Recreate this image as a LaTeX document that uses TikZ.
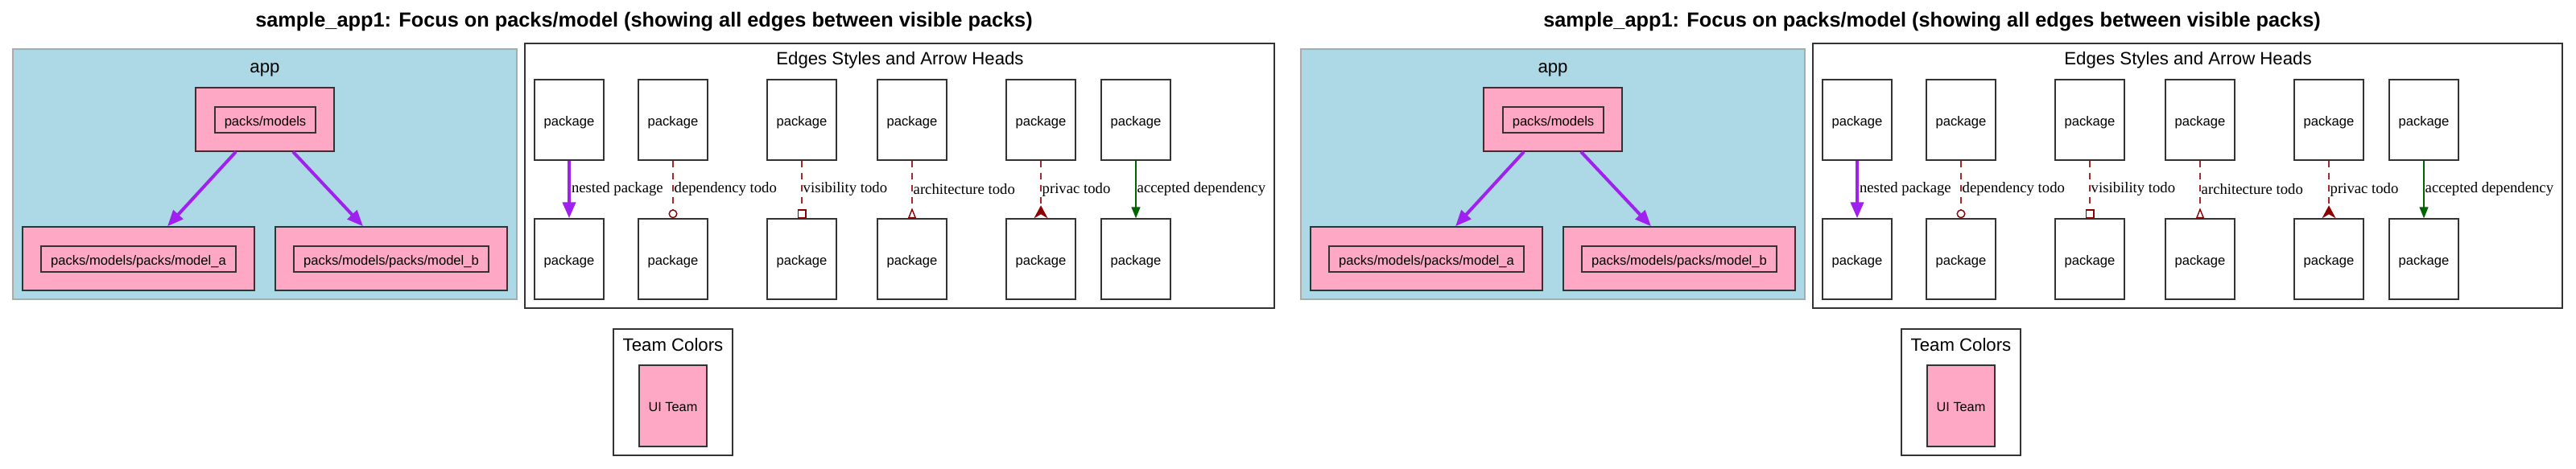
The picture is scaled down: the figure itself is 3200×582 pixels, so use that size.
\documentclass[tikz,border=0pt]{standalone}
\usepackage{fontspec}
\setmainfont{Liberation Sans}
\newfontfamily\edgefont{Liberation Serif}
\usetikzlibrary{arrows.meta}
\definecolor{gvpink}{RGB}{255,168,197}
\definecolor{gvblue}{RGB}{173,216,230}
\definecolor{gvpurple}{RGB}{160,32,240}
\definecolor{gvdarkred}{RGB}{139,0,0}
\definecolor{gvline}{RGB}{165,42,42}
\definecolor{gvgreen}{RGB}{0,100,0}
\definecolor{gvborder}{RGB}{51,51,51}
\definecolor{gvgray}{RGB}{170,170,170}
\tikzset{
  gvtext/.style={font=\fontsize{16.6}{20}\selectfont, text height=15pt, text depth=1pt},
  pkgbox/.style={draw=gvborder, line width=1.4pt, fill=white, minimum width=86pt, minimum height=100pt, inner sep=0pt, gvtext},
  pinkbox/.style={draw=gvborder, line width=1.4pt, fill=gvpink, minimum height=79pt, inner sep=0pt},
  labelbox/.style={draw=gvborder, line width=1.2pt, fill=gvpink, minimum height=32pt, inner sep=0pt, gvtext},
  clusterlabel/.style={font=\fontsize{22.2}{26}\selectfont, anchor=base, inner sep=0pt},
  titlelabel/.style={font=\bfseries\fontsize{25.3}{30}\selectfont, anchor=base, inner sep=0pt},
  elabel/.style={font=\edgefont\fontsize{18.7}{22}\selectfont, anchor=west, inner sep=0pt, xshift=1pt},
  nestedge/.style={draw=gvpurple, line width=4pt, -{Triangle[length=20pt,width=16pt]}},
  todoedge/.style={draw=gvline, line width=1.4pt, dash pattern=on 8pt off 7pt},
  acceptedge/.style={draw=gvgreen, line width=1.4pt, -{Triangle[length=14pt,width=11pt]}},
}
\newcommand\drawcopy{%
  % title
  \node[titlelabel] (title) at (800,33.5) {sample\_app1: Focus on packs/model (showing all edges between visible packs)};
  % app cluster
  \node[draw=gvgray, line width=1.4pt, fill=gvblue, minimum width=626pt, minimum height=311pt, inner sep=0pt] (app) at (329,216.5) {};
  \node[clusterlabel] (applabel) at (329,90.5) {app};
  \node[pinkbox, minimum width=172pt] (pm) at (329,148.5) {};
  \node[labelbox, minimum width=125pt] (pmtext) at (329.5,149) {packs/models};
  \node[pinkbox, minimum width=288pt] (ma) at (172,321.5) {};
  \node[labelbox, minimum width=242pt] (matext) at (172,322) {packs/models/packs/model\_a};
  \node[pinkbox, minimum width=288pt] (mb) at (486,321.5) {};
  \node[labelbox, minimum width=242pt] (mbtext) at (486,322) {packs/models/packs/model\_b};
  \draw[nestedge] ([xshift=-36pt]pm.south) -- ([xshift=36pt]ma.north);
  \draw[nestedge] ([xshift=35pt]pm.south) -- ([xshift=-35pt]mb.north);
  % edges legend cluster
  \node[draw=gvborder, line width=1.4pt, fill=white, minimum width=931pt, minimum height=329pt, inner sep=0pt] (legend) at (1117.5,218.5) {};
  \node[clusterlabel] (legendlabel) at (1118,80) {Edges Styles and Arrow Heads};
  \foreach \i/\x in {1/707,2/836,3/996,4/1133,5/1293,6/1411}{%
    \node[pkgbox] (t\i) at (\x,149) {package};
    \node[pkgbox] (b\i) at (\x,322) {package};
  }
  \draw[nestedge] (t1) -- node[elabel, pos=0.5] {nested package} (b1);
  \draw[todoedge, -{Circle[open, length=11pt, width=11pt, line width=1.4pt, color=gvdarkred]}] (t2) -- node[elabel, pos=0.5] {dependency todo} (b2);
  \draw[todoedge, -{Square[open, length=11pt, width=11pt, line width=1.4pt, color=gvdarkred]}] (t3) -- node[elabel, pos=0.5] {visibility todo} (b3);
  \draw[todoedge, -{Triangle[open, reversed, length=13pt, width=10pt, line width=1.4pt, color=gvdarkred]}] (t4) -- node[elabel, pos=0.5] {architecture todo} (b4);
  \draw[todoedge, -{Stealth[reversed, length=16pt, width=17pt, inset=5pt, color=gvdarkred]}] (t5) -- node[elabel, pos=0.5] {privac todo} (b5);
  \draw[acceptedge] (t6) -- node[elabel, pos=0.5] {accepted dependency} (b6);
  % team colors
  \node[draw=gvborder, line width=1.4pt, fill=white, minimum width=148pt, minimum height=157pt, inner sep=0pt] (team) at (836,487.5) {};
  \node[clusterlabel] (teamlabel) at (836,436) {Team Colors};
  \node[draw=gvborder, line width=1.4pt, fill=gvpink, minimum width=84pt, minimum height=101pt, inner sep=0pt, font=\fontsize{16.3}{20}\selectfont, text height=14pt, text depth=1pt] (ui) at (836,504.5) {UI Team};
}
\begin{document}
\begin{tikzpicture}[x=1pt,y=-1pt]
  \useasboundingbox (0,0) rectangle (3200,582);
  \fill[white] (0,0) rectangle (3200,582);
  \begin{scope}[name prefix=L-]
    \drawcopy
  \end{scope}
  \begin{scope}[xshift=1600pt, name prefix=R-]
    \drawcopy
  \end{scope}
\end{tikzpicture}
\end{document}
